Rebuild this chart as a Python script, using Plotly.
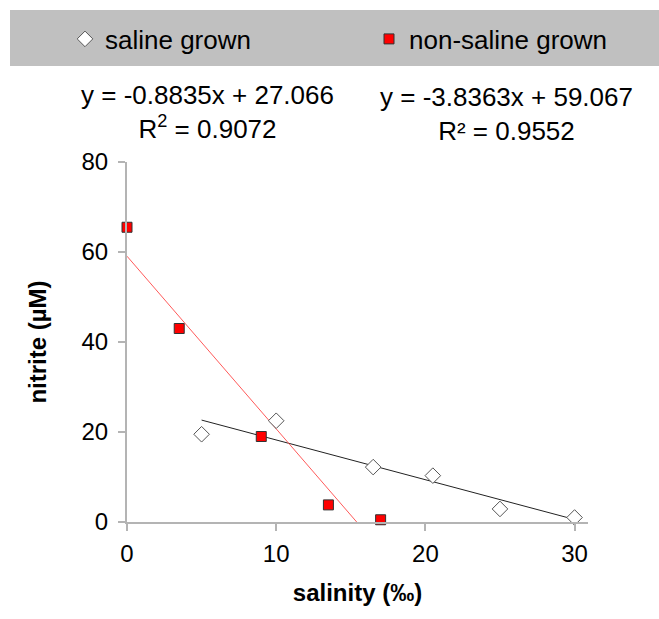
import plotly.graph_objects as go

# Data
saline_x = [5, 10, 16.5, 20.5, 25, 30]
saline_y = [19.5, 22.5, 12.2, 10.3, 2.9, 1.0]
nonsaline_x = [0, 3.5, 9, 13.5, 17]
nonsaline_y = [65.5, 43.0, 19.0, 3.8, 0.5]

saline_fit = (-0.8835, 27.066, 0.9072)
nonsaline_fit = (-3.8363, 59.067, 0.9552)

x_ticks = [0, 10, 20, 30]
y_ticks = [0, 20, 40, 60, 80]

FONT = "Liberation Sans, Arial, sans-serif"

def fit_line(xs, coef):
    x0, x1 = min(xs), max(xs)
    return [x0, x1], [coef[0] * x0 + coef[1], coef[0] * x1 + coef[1]]

fig = go.Figure()

lx, ly = fit_line(saline_x, saline_fit)
fig.add_trace(go.Scatter(x=lx, y=ly, mode="lines", line=dict(color="#222222", width=1),
                         showlegend=False, hoverinfo="skip"))
lx, ly = fit_line(nonsaline_x, nonsaline_fit)
fig.add_trace(go.Scatter(x=lx, y=ly, mode="lines", line=dict(color="#ff5a5a", width=1),
                         showlegend=False, hoverinfo="skip"))

fig.add_trace(go.Scatter(x=saline_x, y=saline_y, mode="markers", name="saline grown",
                         marker=dict(symbol="diamond", size=12, color="white",
                                     line=dict(color="#555555", width=1)),
                         cliponaxis=False, legend="legend"))
fig.add_trace(go.Scatter(x=nonsaline_x, y=nonsaline_y, mode="markers", name="non-saline grown",
                         marker=dict(symbol="square", size=10, color="#ff0000",
                                     line=dict(color="#333333", width=1)),
                         cliponaxis=False, legend="legend2"))

W, H = 659, 619
L, R, T, B = 127, 71, 162, 97
pw, ph = W - L - R, H - T - B

def px2x(px):
    return (px - L) / pw

def px2y(py):
    return (H - B - py) / ph

fig.add_shape(type="rect", xref="paper", yref="paper",
              x0=px2x(10), x1=px2x(680), y0=px2y(66), y1=px2y(10),
              fillcolor="#c0c0c0", line=dict(width=0), layer="below")

eq1 = f"y = {saline_fit[0]}x + {saline_fit[1]:.3f}<br>R<sup>2</sup> = {saline_fit[2]}"
eq2 = f"y = {nonsaline_fit[0]}x + {nonsaline_fit[1]:.3f}<br>R² = {nonsaline_fit[2]}"
fig.add_annotation(text=eq1, xref="paper", yref="paper", x=px2x(207), y=px2y(112),
                   xanchor="center", yanchor="middle", showarrow=False,
                   font=dict(family=FONT, size=26, color="#000000"))
fig.add_annotation(text=eq2, xref="paper", yref="paper", x=px2x(506), y=px2y(114),
                   xanchor="center", yanchor="middle", showarrow=False,
                   font=dict(family=FONT, size=26, color="#000000"))

axis_common = dict(showline=True, linecolor="#b4b4b4", linewidth=2, ticks="outside",
                   ticklen=7, tickwidth=2, tickcolor="#b4b4b4", showgrid=False,
                   zeroline=False, tickfont=dict(family=FONT, size=24, color="#000000"))

fig.update_xaxes(range=[0, 30.9], tickvals=x_ticks, **axis_common, ticklabelstandoff=2,
                 title=dict(text="<b>salinity (‰)</b>", font=dict(family=FONT, size=24, color="#000000"),
                            standoff=18))
fig.update_yaxes(range=[0, 80], tickvals=y_ticks, **axis_common, ticklabelstandoff=5,
                 title=dict(text="<b>nitrite (µM)</b>", font=dict(family=FONT, size=24, color="#000000"),
                            standoff=28))

legend_common = dict(orientation="h", bgcolor="rgba(0,0,0,0)", borderwidth=0,
                     font=dict(family=FONT, size=26, color="#000000"),
                     xanchor="left", yanchor="middle", yref="paper", xref="paper")
fig.update_layout(
    width=W, height=H,
    margin=dict(l=L, r=R, t=T, b=B, autoexpand=False),
    paper_bgcolor="white", plot_bgcolor="white",
    showlegend=True,
    legend=dict(x=px2x(65), y=px2y(39), **legend_common),
    legend2=dict(x=px2x(369), y=px2y(39), **legend_common),
)

fig.write_html("out.html")
